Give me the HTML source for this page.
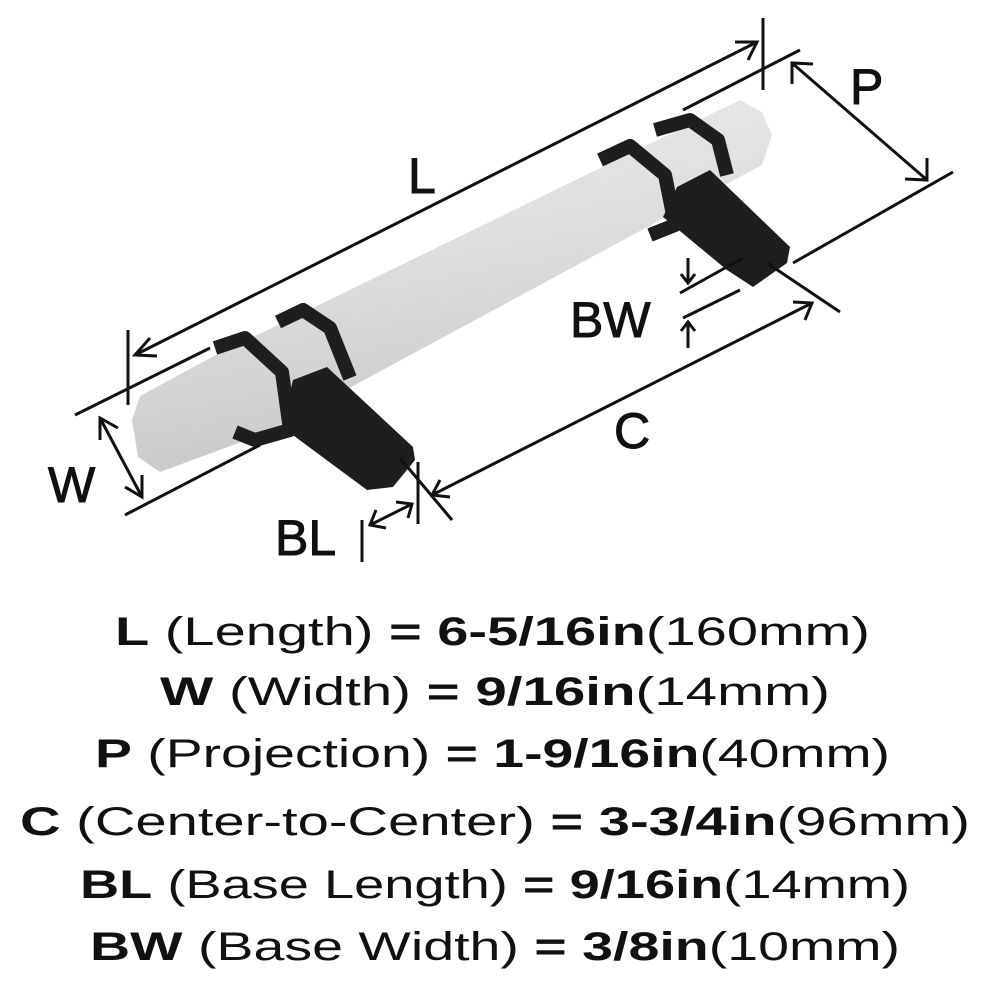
<!DOCTYPE html>
<html><head><meta charset="utf-8"><style>
html,body{margin:0;padding:0;background:#fff;}
svg{display:block;font-family:"Liberation Sans",sans-serif;}
</style></head><body>
<svg width="990" height="988" viewBox="0 0 990 988" xmlns="http://www.w3.org/2000/svg">
<defs>
<linearGradient id="bar" x1="0" y1="0" x2="0.3" y2="1">
<stop offset="0" stop-color="#eeeeee"/><stop offset="0.5" stop-color="#dedede"/><stop offset="1" stop-color="#c8c8c8"/>
</linearGradient>
</defs>
<!-- bar -->
<polygon points="140,396 210,358 740,100 762,112 772,135 762,165 268,432 160,472 138,457 132,420" fill="url(#bar)"/>
<!-- left post -->
<polygon points="293,380 327,367 413,447 415,460 393,487 367,490 282,427" fill="#1e1e1e"/>
<polyline points="215,348 245,338 282,372 290,430 255,440 235,432" fill="none" stroke="#1e1e1e" stroke-width="14" stroke-linejoin="round"/>
<polyline points="278,322 303,310 330,328 350,378" fill="none" stroke="#1e1e1e" stroke-width="14" stroke-linejoin="round"/>
<!-- right post -->
<polygon points="677,187 710,170 790,247 787,263 753,287 727,270 663,217" fill="#1e1e1e"/>
<polyline points="600,160 630,146 665,175 675,225 650,235" fill="none" stroke="#1e1e1e" stroke-width="14" stroke-linejoin="round"/>
<polyline points="655,130 690,120 718,140 727,175" fill="none" stroke="#1e1e1e" stroke-width="14" stroke-linejoin="round"/>
<g stroke="#111" stroke-width="3" fill="none">
<!-- L -->
<line x1="135" y1="355" x2="757" y2="42"/>
<polyline points="150,338 135,355 157,356"/>
<polyline points="735,42 757,42 748,60"/>
<line x1="128" y1="330" x2="128" y2="405"/>
<line x1="763" y1="18" x2="763" y2="90"/>
<!-- P -->
<line x1="683" y1="110" x2="800" y2="50"/>
<line x1="793" y1="263" x2="953" y2="172"/>
<line x1="792" y1="63" x2="927" y2="180"/>
<polyline points="792,84 792,63 813,64"/>
<polyline points="927,158 927,180 905,179"/>
<!-- W -->
<line x1="75" y1="415" x2="210" y2="348"/>
<line x1="125" y1="515" x2="260" y2="445"/>
<line x1="100" y1="418" x2="142" y2="497"/>
<polyline points="100,440 100,418 118,428"/>
<polyline points="142,475 142,497 125,487"/>
<!-- C -->
<line x1="432" y1="495" x2="812" y2="303"/>
<polyline points="440,480 432,495 450,497"/>
<polyline points="793,302 812,303 805,320"/>
<line x1="400" y1="458" x2="452" y2="520"/>
<line x1="767" y1="263" x2="840" y2="312"/>
<!-- BL -->
<line x1="370" y1="525" x2="412" y2="504"/>
<polyline points="376,510 370,525 386,528"/>
<polyline points="396,502 412,504 408,518"/>
<line x1="362" y1="520" x2="362" y2="562"/>
<line x1="418" y1="462" x2="418" y2="524"/>
<!-- BW -->
<line x1="680" y1="293" x2="743" y2="258"/>
<line x1="683" y1="318" x2="740" y2="290"/>
<line x1="688" y1="258" x2="688" y2="282"/>
<polyline points="681,274 688,283 695,274"/>
<line x1="688" y1="322" x2="688" y2="348"/>
<polyline points="681,331 688,322 695,331"/>
</g>
<g font-size="50" fill="#111" stroke="#111" stroke-width="1">
<text x="408" y="193">L</text>
<text x="850" y="104">P</text>
<text x="48" y="502">W</text>
<text x="614" y="448">C</text>
<text x="275" y="555">BL</text>
<text x="570" y="337">BW</text>
</g>
<g font-size="40" fill="#111">
<text x="115" y="645" textLength="755" lengthAdjust="spacingAndGlyphs"><tspan font-weight="bold">L</tspan> (Length) <tspan font-weight="bold">= 6-5/16in</tspan>(160mm)</text>
<text x="160" y="705" textLength="670" lengthAdjust="spacingAndGlyphs"><tspan font-weight="bold">W</tspan> (Width) <tspan font-weight="bold">= 9/16in</tspan>(14mm)</text>
<text x="95" y="767" textLength="795" lengthAdjust="spacingAndGlyphs"><tspan font-weight="bold">P</tspan> (Projection) <tspan font-weight="bold">= 1-9/16in</tspan>(40mm)</text>
<text x="20" y="835" textLength="950" lengthAdjust="spacingAndGlyphs"><tspan font-weight="bold">C</tspan> (Center-to-Center) <tspan font-weight="bold">= 3-3/4in</tspan>(96mm)</text>
<text x="80" y="898" textLength="830" lengthAdjust="spacingAndGlyphs"><tspan font-weight="bold">BL</tspan> (Base Length) <tspan font-weight="bold">= 9/16in</tspan>(14mm)</text>
<text x="90" y="960" textLength="810" lengthAdjust="spacingAndGlyphs"><tspan font-weight="bold">BW</tspan> (Base Width) <tspan font-weight="bold">= 3/8in</tspan>(10mm)</text>
</g>
</svg>
</body></html>
